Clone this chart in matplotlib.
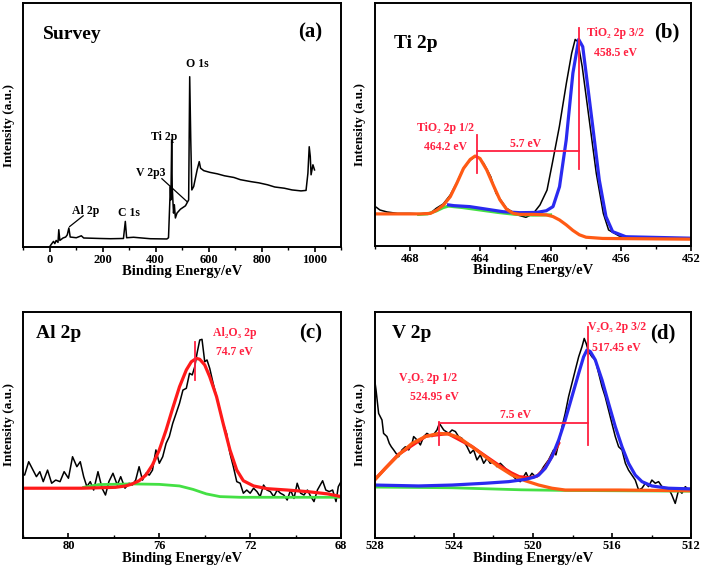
import matplotlib
matplotlib.use("Agg")
import matplotlib.pyplot as plt
from matplotlib.ticker import MultipleLocator

plt.rcParams['font.family'] = ['Liberation Serif', 'DejaVu Serif']
plt.rcParams['font.weight'] = 'bold'

RED = '#ff2040'
ORANGE = '#ff5a14'
BLUE = '#2a2af0'
GREEN = '#44e044'

# ---- (a) survey spectrum ----
survey_ev = [0, 6, 15, 20, 25, 32, 35, 39, 51, 61, 67, 73, 78, 101, 120, 129, 160, 190,
             230, 279, 286, 291, 317, 380, 443, 449, 456, 458, 461, 463, 466, 468, 471,
             475, 481, 494, 513, 525, 529, 533, 537, 544, 557, 565, 570, 582, 605, 633,
             660, 696, 720, 760, 790, 823, 850, 886, 915, 949, 968, 975, 980, 984, 987,
             994, 1000]
survey_y = [0, 1.0, 2.3, 1.4, 2.7, 1.9, 7.1, 2.7, 3.7, 4.1, 5.0, 7.8, 4.1, 3.8, 4.6, 3.7,
            3.6, 3.5, 3.4, 3.5, 10.5, 3.8, 4.0, 3.4, 3.3, 3.8, 24.8, 19.3, 43.9, 24.8,
            18.0, 13.9, 17.3, 11.9, 13.9, 15.5, 16.9, 19.3, 69.8, 43.9, 23.4, 24.8, 31.6,
            35.0, 32.3, 31.3, 30.6, 30.0, 29.2, 28.5, 27.6, 26.8, 26.3, 25.5, 24.6, 24.1,
            23.4, 23.0, 23.2, 30.2, 41.1, 37.1, 29.6, 33.7, 31.6]
survey_labels = ['O 1s', 'Ti 2p', 'V 2p3', 'Al 2p', 'C 1s']
survey_label_ev = [557, 434, 383, 136, 300]
survey_label_y = [75, 45, 30.2, 14.9, 14.1]

# ---- (b) Ti 2p ----
ti_ev = [469.9, 469.7, 469.3, 468.7, 468.0, 467.4, 466.8, 466.5, 466.1, 465.7, 465.3,
         465.0, 464.6, 464.3, 464.1, 463.8, 463.4, 463.1, 462.5, 461.9, 461.4, 461.0,
         460.6, 460.2, 459.9, 459.5, 459.1, 458.8, 458.6, 458.45, 458.2, 457.8, 457.4,
         457.0, 456.7, 456.1, 455.2, 452.0]
ti_raw = [15.9, 14.8, 14.0, 13.4, 13.4, 13.2, 13.7, 15.5, 17.3, 21.0, 26.5, 31.3, 35.1,
          36.8, 36.5, 34.0, 28.5, 21.7, 15.5, 12.8, 11.8, 13.2, 16.9, 23.0, 34.0, 49.1,
          67.0, 79.3, 85.0, 84.1, 73.8, 51.9, 29.9, 13.4, 6.6, 4.1, 3.6, 3.2]
ti_blue_ev = [465.8, 465.5, 464.6, 463.6, 462.7, 461.75, 460.8, 460.24, 459.86, 459.49,
              459.11, 458.73, 458.4, 458.17, 457.98, 457.6, 457.23, 456.85, 456.47,
              455.72, 452.0]
ti_blue = [16.9, 16.6, 16.2, 15.1, 14.1, 13.7, 13.8, 14.5, 16.2, 24.4, 43.6, 71.1, 85.0,
           82.0, 71.1, 49.1, 27.2, 12.1, 5.9, 3.8, 3.2]
ti_orange_ev = [469.9, 467.4, 466.83, 466.46, 466.08, 465.7, 465.33, 464.95, 464.57,
                464.29, 464.01, 463.63, 463.26, 462.88, 462.5, 462.12, 461.75, 461.0,
                460.24, 459.86, 459.49, 459.11, 458.73, 458.36, 457.98, 457.04, 452.0]
ti_orange = [13.2, 13.2, 13.4, 14.8, 16.9, 20.3, 25.8, 31.9, 35.6, 37.0, 36.0, 31.3,
             25.1, 19.0, 15.1, 13.4, 13.0, 13.0, 12.8, 12.1, 10.7, 8.7, 6.4, 4.6, 3.6,
             3.1, 2.8]
ti_green_ev = [467.5, 467.0, 466.5, 466.1, 465.8, 465.0, 464.0, 463.0, 462.0, 461.0, 460.0]
ti_green = [13.0, 13.2, 14.4, 15.8, 16.4, 15.8, 14.8, 13.8, 13.0, 12.7, 12.8]

# ---- (c) Al 2p ----
al_ev = [82.1, 81.93, 81.75, 81.56, 81.41, 81.26, 81.11, 80.92, 80.74, 80.56, 80.37,
         80.19, 80.0, 79.82, 79.63, 79.48, 79.33, 79.19, 79.04, 78.89, 78.7, 78.52,
         78.37, 78.22, 78.04, 77.85, 77.7, 77.51, 77.33, 77.19, 77.04, 76.89, 76.74,
         76.59, 76.44, 76.3, 76.15, 76.0, 75.85, 75.7, 75.56, 75.41, 75.26, 75.11,
         74.96, 74.81, 74.67, 74.55, 74.44, 74.34, 74.22, 74.12, 74.0, 73.9, 73.78,
         73.63, 73.48, 73.33, 73.19, 73.04, 72.89, 72.74, 72.59, 72.44, 72.3, 72.15,
         72.0, 71.85, 71.7, 71.56, 71.41, 71.26, 71.11, 70.96, 70.81, 70.67, 70.52,
         70.37, 70.22, 70.07, 69.93, 69.78, 69.63, 69.48, 69.33, 69.19, 69.04, 68.81,
         68.67, 68.52, 68.37, 68.22, 68.12, 68.0]
al_raw = [28.7, 27.9, 33.8, 30.1, 27.2, 29.4, 25.0, 30.1, 24.3, 25.7, 25.0, 29.4, 26.5,
          36.0, 31.6, 33.8, 27.2, 22.8, 25.0, 21.3, 29.4, 22.1, 19.1, 25.0, 28.7, 23.5,
          27.2, 22.1, 24.3, 23.5, 25.7, 31.6, 25.7, 28.7, 27.9, 30.1, 39.0, 33.1, 36.0,
          41.9, 44.9, 50.7, 55.1, 59.6, 65.4, 66.2, 72.8, 72.1, 75.7, 81.6, 87.5, 87.8,
          77.9, 78.7, 75.0, 68.4, 62.5, 56.6, 50.7, 46.3, 37.5, 31.6, 25.0, 24.3, 19.9,
          21.3, 19.9, 22.1, 20.6, 18.4, 23.5, 21.3, 20.6, 18.4, 21.3, 19.9, 19.1, 16.9,
          21.3, 17.6, 24.3, 19.9, 19.1, 21.3, 18.4, 16.2, 21.3, 25.4, 21.3, 20.6, 21.3,
          16.2, 22.8, 25.0]
al_fit_ev = [82.1, 79.41, 77.93, 77.48, 77.19, 76.89, 76.59, 76.3, 76.0, 75.7, 75.41,
             75.11, 74.81, 74.59, 74.37, 74.22, 74.0, 73.78, 73.48, 73.19, 72.89, 72.59,
             72.3, 71.85, 71.26, 70.37, 69.48, 68.59, 68.0]
al_fit = [22.1, 22.1, 22.5, 23.1, 24.0, 25.4, 27.9, 32.4, 39.0, 47.8, 57.4, 66.9, 74.3,
          77.9, 79.4, 79.0, 76.5, 71.3, 62.5, 50.7, 39.0, 30.1, 25.4, 23.1, 21.9, 21.3,
          20.6, 19.6, 18.4]
al_bg_ev = [79.33, 78.67, 77.19, 76.0, 75.11, 74.52, 73.93, 73.33, 72.44, 68.0]
al_bg = [22.5, 23.7, 24.0, 23.8, 23.1, 21.6, 19.6, 18.4, 18.1, 18.1]

# ---- (d) V 2p ----
v_ev = [528.0, 527.93, 527.8, 527.63, 527.55, 527.38, 527.26, 527.16, 527.04, 526.92,
        526.79, 526.62, 526.45, 526.28, 526.11, 526.03, 525.86, 525.69, 525.52, 525.36,
        525.1, 524.85, 524.73, 524.51, 524.26, 524.09, 523.92, 523.76, 523.59, 523.33,
        523.17, 523.0, 522.83, 522.66, 522.49, 522.32, 522.16, 521.99, 521.82, 521.65,
        521.48, 521.31, 521.15, 520.98, 520.81, 520.64, 520.47, 520.35, 520.22, 520.05,
        519.88, 519.71, 519.46, 519.21, 518.96, 518.84, 518.7, 518.53, 518.37, 518.2,
        518.03, 517.86, 517.69, 517.52, 517.41, 517.31, 517.19, 517.02, 516.85, 516.68,
        516.51, 516.35, 516.18, 516.01, 515.84, 515.67, 515.5, 515.33, 515.17, 515.0,
        514.83, 514.66, 514.49, 514.32, 514.16, 513.99, 513.82, 513.65, 513.48, 513.31,
        513.15, 512.98, 512.81, 512.64, 512.47, 512.3, 512.13, 512.0]
v_raw = [69.9, 65.4, 55.1, 52.2, 46.3, 44.9, 41.9, 40.4, 39.0, 37.5, 36.0, 39.0, 40.4,
         39.0, 41.9, 44.9, 43.4, 41.2, 44.9, 46.3, 44.9, 47.8, 50.7, 47.8, 46.3, 47.8,
         47.1, 44.9, 44.1, 40.4, 37.5, 39.0, 34.6, 36.8, 33.1, 35.3, 33.1, 33.8, 31.6,
         33.1, 31.6, 30.1, 28.7, 27.2, 25.7, 25.0, 27.2, 29.0, 26.5, 28.7, 27.2, 27.9,
         31.6, 34.6, 39.0, 36.8, 41.9, 49.3, 55.1, 62.5, 68.4, 74.3, 80.1, 84.6, 88.2,
         86.0, 82.4, 80.1, 78.7, 72.8, 66.9, 62.5, 56.6, 50.7, 44.9, 40.4, 39.0, 33.1,
         30.1, 27.9, 25.7, 21.3, 22.1, 24.3, 22.8, 25.7, 24.3, 25.0, 22.8, 21.3, 22.1,
         19.1, 15.4, 21.3, 19.9, 22.8, 21.3, 22.1]
v_orange_ev = [528.0, 527.46, 526.79, 526.11, 525.44, 524.77, 524.26, 523.76, 523.08,
               522.41, 521.73, 521.06, 520.39, 519.71, 519.04, 518.37, 517.36, 515.67,
               512.0]
v_orange = [25.7, 30.9, 36.8, 41.9, 44.9, 46.3, 46.0, 44.6, 40.4, 36.0, 31.6, 27.9, 25.4,
            23.5, 22.1, 21.3, 21.3, 21.3, 21.0]
v_env_ev = [528.0, 526.8, 525.4, 524.3, 523.1, 522.4, 521.7, 521.1, 520.7, 520.2, 519.8,
            519.4, 519.0, 518.7]
v_env = [25.9, 37.0, 45.1, 46.2, 40.6, 36.3, 32.1, 28.9, 27.2, 26.7, 27.4, 30.9, 36.8,
         41.9]
v_blue_ev = [528.0, 525.78, 524.09, 522.41, 521.23, 520.39, 519.97, 519.71, 519.38,
             519.04, 518.7, 518.37, 518.03, 517.69, 517.44, 517.27, 517.1, 516.85,
             516.51, 516.18, 515.84, 515.5, 515.17, 514.83, 514.49, 513.99, 513.15, 512.0]
v_blue = [23.5, 23.1, 23.5, 24.3, 25.0, 26.0, 26.9, 27.9, 30.9, 36.0, 43.4, 52.2, 62.5,
          72.8, 80.1, 83.1, 82.4, 78.7, 69.9, 59.6, 49.3, 40.4, 33.1, 27.9, 25.0, 23.1,
          22.1, 21.8]
v_bg_ev = [528.0, 524.1, 520.6, 518.2, 512.0]
v_bg = [22.6, 22.3, 21.4, 21.1, 20.8]

fig = plt.figure(figsize=(7.04, 5.8), dpi=100)
ax_a = fig.add_axes([0.0327, 0.5741, 0.4517, 0.4207])
ax_b = fig.add_axes([0.5322, 0.5759, 0.4497, 0.4190])
ax_c = fig.add_axes([0.0327, 0.0719, 0.4517, 0.3907])
ax_d = fig.add_axes([0.5322, 0.0719, 0.4497, 0.3907])


def style(ax, xlim, major, minor, direction):
    ax.set_xlim(*xlim)
    ax.set_ylim(0, 100)
    ax.set_yticks([])
    ax.xaxis.set_major_locator(MultipleLocator(major))
    ax.xaxis.set_minor_locator(MultipleLocator(minor))
    ax.tick_params(axis='x', which='major', direction=direction, length=3.5, width=1.2,
                   labelsize=9, pad=1.5)
    ax.tick_params(axis='x', which='minor', direction=direction, length=2, width=1.0)
    for lab in ax.get_xticklabels():
        lab.set_fontweight('bold')
    for sp in ax.spines.values():
        sp.set_linewidth(1.4)
    ax.set_xlabel('Binding Energy/eV', fontsize=10.5, fontweight='bold', labelpad=-0.5)
    ax.set_ylabel('Intensity (a.u.)', fontsize=9.5, fontweight='bold', labelpad=6)


def red_text(ax, x, y, s, ha='center'):
    ax.text(x, y, s, color=RED, fontsize=8.5, fontweight='bold', ha=ha, va='center')


# (a)
ax_a.plot(survey_ev, survey_y, color='black', lw=1.1)
for lab, x, y in zip(survey_labels, survey_label_ev, survey_label_y):
    ax_a.text(x, y, lab, fontsize=8.5, fontweight='bold', ha='center', va='center')
ax_a.plot([424, 519], [28.0, 18.6], color='black', lw=0.9)
ax_a.plot([127, 76], [12.8, 8.4], color='black', lw=0.9)
style(ax_a, (-100, 1100), 200, 100, 'out')
ax_a.text(0.063, 0.87, 'Survey', transform=ax_a.transAxes, fontsize=14,
          fontweight='bold', va='center')
ax_a.text(0.94, 0.88, '(a)', transform=ax_a.transAxes, fontsize=15,
          fontweight='bold', va='center', ha='right')

# (b)
ax_b.plot(ti_ev, ti_raw, color='black', lw=1.1)
ax_b.plot(ti_green_ev, ti_green, color=GREEN, lw=2.2)
ax_b.plot(ti_blue_ev, ti_blue, color=BLUE, lw=2.3)
ax_b.plot(ti_orange_ev, ti_orange, color=ORANGE, lw=2.3)
ax_b.plot([464.2, 464.2], [29.9, 45.7], color=RED, lw=1.3)
ax_b.plot([464.2, 458.4], [39.1, 39.1], color=RED, lw=1.3)
ax_b.plot([458.4, 458.4], [31.6, 89.6], color=RED, lw=1.3)
red_text(ax_b, 466.0, 48.4, 'TiO₂ 2p 1/2')
red_text(ax_b, 466.0, 40.9, '464.2 eV')
red_text(ax_b, 461.4, 42.0, '5.7 eV')
red_text(ax_b, 457.9, 87.5, 'TiO₂ 2p 3/2', ha='left')
red_text(ax_b, 456.3, 79.3, '458.5 eV')
style(ax_b, (470, 452), 4, 2, 'out')
ax_b.text(0.06, 0.834, 'Ti 2p', transform=ax_b.transAxes, fontsize=14,
          fontweight='bold', va='center')
ax_b.text(0.964, 0.88, '(b)', transform=ax_b.transAxes, fontsize=15,
          fontweight='bold', va='center', ha='right')

# (c)
ax_c.plot(al_ev, al_raw, color='black', lw=1.1)
ax_c.plot(al_bg_ev, al_bg, color=GREEN, lw=2.0)
ax_c.plot(al_fit_ev, al_fit, color='#ff1a1a', lw=2.3)
ax_c.plot([74.44, 74.44], [69.9, 86.8], color=RED, lw=1.3)
red_text(ax_c, 72.7, 90.4, 'Al₂O₃ 2p')
red_text(ax_c, 72.7, 82.4, '74.7 eV')
style(ax_c, (82, 68), 4, 2, 'in')
ax_c.text(0.04, 0.905, 'Al 2p', transform=ax_c.transAxes, fontsize=14,
          fontweight='bold', va='center')
ax_c.text(0.94, 0.905, '(c)', transform=ax_c.transAxes, fontsize=15,
          fontweight='bold', va='center', ha='right')

# (d)
ax_d.plot(v_ev, v_raw, color='black', lw=1.1)
ax_d.plot(v_bg_ev, v_bg, color=GREEN, lw=2.0)
ax_d.plot(v_env_ev, v_env, color='#ff1a1a', lw=2.3)
ax_d.plot(v_orange_ev, v_orange, color=ORANGE, lw=2.3)
ax_d.plot(v_blue_ev, v_blue, color=BLUE, lw=2.3)
ax_d.plot([524.73, 524.73], [41.2, 51.5], color=RED, lw=1.3)
ax_d.plot([524.73, 517.24], [50.7, 50.7], color=RED, lw=1.3)
ax_d.plot([517.24, 517.24], [41.2, 93.4], color=RED, lw=1.3)
red_text(ax_d, 525.3, 70.6, 'V₂O₅ 2p 1/2')
red_text(ax_d, 525.0, 62.5, '524.95 eV')
red_text(ax_d, 520.9, 54.4, '7.5 eV')
red_text(ax_d, 517.2, 93.1, 'V₂O₅ 2p 3/2', ha='left')
red_text(ax_d, 515.8, 83.8, '517.45 eV')
style(ax_d, (528, 512), 4, 2, 'in')
ax_d.text(0.055, 0.905, 'V 2p', transform=ax_d.transAxes, fontsize=14,
          fontweight='bold', va='center')
ax_d.text(0.949, 0.905, '(d)', transform=ax_d.transAxes, fontsize=15,
          fontweight='bold', va='center', ha='right')

fig.savefig('out.png', dpi=100)
